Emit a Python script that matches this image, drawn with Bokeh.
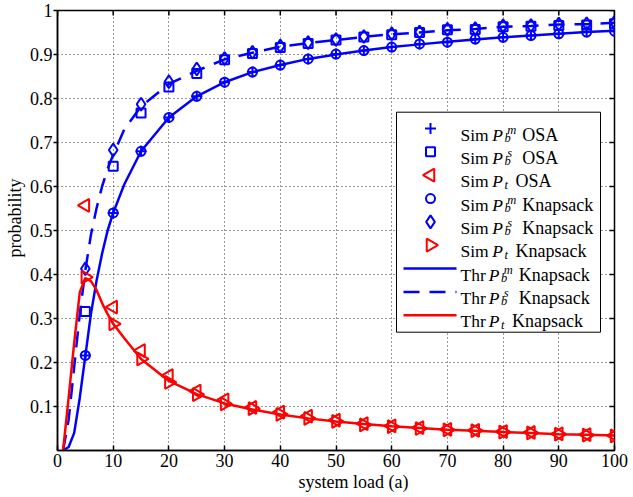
import math
from bokeh.plotting import figure
from bokeh.models import FixedTicker, Range1d, ColumnDataSource, Title
from bokeh.embed import file_html
from bokeh.resources import INLINE
from bokeh.core.properties import value

# ---------------- data ----------------
x_sim = [5, 10, 15, 20, 25, 30, 35, 40, 45, 50, 55, 60, 65, 70, 75, 80, 85, 90, 95, 100]
sim_pbm_osa = [0.216, 0.540, 0.680, 0.757, 0.805, 0.837, 0.860, 0.876, 0.890, 0.901,
               0.909, 0.917, 0.924, 0.928, 0.935, 0.939, 0.943, 0.947, 0.951, 0.953]
sim_pbs_osa = [0.316, 0.646, 0.767, 0.826, 0.857, 0.888, 0.902, 0.916, 0.925, 0.933,
               0.940, 0.945, 0.950, 0.956, 0.957, 0.963, 0.964, 0.966, 0.967, 0.970]
sim_pt_osa = [0.557, 0.326, 0.227, 0.170, 0.135, 0.115, 0.098, 0.087, 0.078, 0.069,
              0.061, 0.056, 0.052, 0.048, 0.046, 0.043, 0.041, 0.038, 0.036, 0.034]
sim_pbm_knap = [0.216, 0.540, 0.680, 0.757, 0.805, 0.837, 0.860, 0.876, 0.890, 0.901,
                0.909, 0.917, 0.924, 0.928, 0.935, 0.939, 0.943, 0.947, 0.951, 0.953]
sim_pbs_knap = [0.413, 0.683, 0.787, 0.838, 0.867, 0.891, 0.905, 0.919, 0.927, 0.934,
                0.941, 0.947, 0.951, 0.957, 0.959, 0.965, 0.966, 0.969, 0.970, 0.973]
sim_pt_knap = [0.394, 0.288, 0.208, 0.155, 0.127, 0.106, 0.095, 0.082, 0.073, 0.066,
               0.058, 0.054, 0.050, 0.047, 0.045, 0.042, 0.040, 0.037, 0.035, 0.033]

x_thr = [1, 2, 3, 4, 5, 6, 7, 8, 9, 10, 12, 15, 20, 25, 30, 35, 40, 45, 50, 55,
         60, 65, 70, 75, 80, 85, 90, 95, 100]
thr_pbm = [0.0, 0.008, 0.04, 0.12, 0.215, 0.31, 0.385, 0.447, 0.50, 0.54, 0.605, 0.68,
           0.757, 0.805, 0.837, 0.86, 0.876, 0.89, 0.90, 0.909, 0.917, 0.923, 0.929,
           0.934, 0.939, 0.943, 0.947, 0.951, 0.954]
thr_pbs = [0.0, 0.07, 0.19, 0.31, 0.41, 0.49, 0.55, 0.60, 0.64, 0.672, 0.73, 0.782,
           0.833, 0.863, 0.889, 0.904, 0.918, 0.926, 0.933, 0.94, 0.946, 0.95, 0.955,
           0.958, 0.963, 0.965, 0.968, 0.969, 0.972]
thr_pt = [0.0, 0.12, 0.245, 0.36, 0.392, 0.385, 0.365, 0.335, 0.31, 0.288, 0.255, 0.208,
          0.158, 0.128, 0.107, 0.093, 0.082, 0.073, 0.066, 0.06, 0.055, 0.051, 0.047,
          0.045, 0.042, 0.04, 0.037, 0.036, 0.034]

x_ticks = [0, 10, 20, 30, 40, 50, 60, 70, 80, 90, 100]
y_ticks = [0.1, 0.2, 0.3, 0.4, 0.5, 0.6, 0.7, 0.8, 0.9, 1.0]
y_tick_labels = ["0.1", "0.2", "0.3", "0.4", "0.5", "0.6", "0.7", "0.8", "0.9", "1"]

leg_prefix = ["Sim", "Sim", "Sim", "Sim", "Sim", "Sim", "Thr", "Thr", "Thr"]
leg_sub = ["b", "b", "t", "b", "b", "t", "b", "b", "t"]
leg_sup = ["m", "s", "", "m", "s", "", "m", "s", ""]
leg_suffix = ["OSA", "OSA", "OSA", "Knapsack", "Knapsack", "Knapsack",
              "Knapsack", "Knapsack", "Knapsack"]

xlabel = "system load (a)"
ylabel = "probability"

# ---------------- layout ----------------
BLUE = "#0000ff"
RED = "#ff0000"
FONT = "Liberation Serif"
W, H = 633, 497
BL, BR, BT, BB = 57, 19, 10, 47
FL, FR, FT, FB = BL, W - BR, BT, H - BB
FW, FH = FR - FL, FB - FT


def xd(px):
    return (px - FL) / FW * 100.0


def yd(py):
    return (FB - py) / FH


p = figure(width=W, height=H, x_range=Range1d(0, 100), y_range=Range1d(0, 1),
           output_backend="svg", toolbar_location=None,
           min_border_left=BL, min_border_right=BR, min_border_top=BT,
           min_border_bottom=BB)
p.background_fill_color = "white"
p.border_fill_color = "white"
p.outline_line_color = "black"
p.outline_line_width = 1.5

p.xaxis.ticker = FixedTicker(ticks=x_ticks)
p.yaxis.ticker = FixedTicker(ticks=y_ticks)
p.yaxis.major_label_overrides = {t: l for t, l in zip(y_ticks, y_tick_labels)}

for ax in (p.xaxis[0], p.yaxis[0]):
    ax.axis_line_color = "black"
    ax.axis_line_width = 1.5
    ax.major_tick_line_color = "black"
    ax.major_tick_line_width = 1.5
    ax.minor_tick_line_color = None
    ax.major_label_text_font = FONT
    ax.major_label_text_font_size = "18px"
    ax.major_label_text_color = "black"

p.xaxis.major_tick_in = 5
p.xaxis.major_tick_out = 0
p.xaxis.major_label_standoff = 3
p.yaxis.major_tick_in = 0
p.yaxis.major_tick_out = 4
p.yaxis.major_label_standoff = 1

p.grid.grid_line_color = "#333333"
p.grid.grid_line_dash = "1 3"
p.grid.grid_line_width = 1

# mirrored inward ticks on the top and right frame edges
TL = 5
p.segment(x0=x_ticks, y0=[1.0] * len(x_ticks), x1=x_ticks, y1=[1.0 - TL / FH] * len(x_ticks),
          line_color="black", line_width=1.5)
p.segment(x0=[100.0] * len(y_ticks), y0=y_ticks, x1=[100.0 - TL / FW * 100] * len(y_ticks),
          y1=y_ticks, line_color="black", line_width=1.5)

# ---------------- simulation markers ----------------
MW = 2
p.scatter(x_sim, sim_pbm_osa, marker="cross", size=11, line_color=BLUE, line_width=MW)
p.scatter(x_sim, sim_pbs_osa, marker="square", size=9, line_color=BLUE, fill_color=None, line_width=MW)
p.scatter(x_sim, sim_pt_osa, marker="triangle", angle=math.pi / 2, size=13, line_color=RED,
          fill_color=None, line_width=MW)
p.scatter(x_sim, sim_pbm_knap, marker="circle", size=9, line_color=BLUE, fill_color=None, line_width=MW)
p.scatter(x_sim, sim_pbs_knap, marker="diamond", size=13, line_color=BLUE, fill_color=None, line_width=MW)
p.scatter(x_sim, sim_pt_knap, marker="triangle", angle=-math.pi / 2, size=13, line_color=RED,
          fill_color=None, line_width=MW)

# ---------------- theory lines ----------------
LW = 2.5
p.line(x_thr, thr_pbm, line_color=BLUE, line_width=LW)
p.line(x_thr, thr_pbs, line_color=BLUE, line_width=LW, line_dash="16 10")
p.line(x_thr, thr_pt, line_color=RED, line_width=LW)

# ---------------- legend (hand-built for sub/superscripts) ----------------
p.quad(left=[xd(396)], right=[xd(600)], top=[yd(111.7)], bottom=[yd(331.7)],
       fill_color="white", line_color="black", line_width=1)

row_cy = [128 + 23.34 * i for i in range(9)]
mx = xd(430)
p.scatter([mx], [yd(row_cy[0])], marker="cross", size=11, line_color=BLUE, line_width=MW)
p.scatter([mx], [yd(row_cy[1])], marker="square", size=9, line_color=BLUE, fill_color=None, line_width=MW)
p.scatter([mx], [yd(row_cy[2])], marker="triangle", angle=math.pi / 2, size=13, line_color=RED,
          fill_color=None, line_width=MW)
p.scatter([mx], [yd(row_cy[3])], marker="circle", size=9, line_color=BLUE, fill_color=None, line_width=MW)
p.scatter([mx], [yd(row_cy[4])], marker="diamond", size=13, line_color=BLUE, fill_color=None, line_width=MW)
p.scatter([mx], [yd(row_cy[5])], marker="triangle", angle=-math.pi / 2, size=13, line_color=RED,
          fill_color=None, line_width=MW)
p.line([xd(403), xd(456)], [yd(row_cy[6])] * 2, line_color=BLUE, line_width=LW)
p.line([xd(403), xd(456)], [yd(row_cy[7])] * 2, line_color=BLUE, line_width=LW, line_dash="16 10")
p.line([xd(403), xd(456)], [yd(row_cy[8])] * 2, line_color=RED, line_width=LW)

TX = 460
pre = dict(x=[], y=[], t=[])
pp = dict(x=[], y=[], t=[])
sub = dict(x=[], y=[], t=[])
sup = dict(x=[], y=[], t=[])
suf = dict(x=[], y=[], t=[])
for i in range(9):
    base = row_cy[i] + 6
    px_p = TX + (31.7 if leg_prefix[i] == "Sim" else 28.3)
    pre["x"].append(xd(TX)); pre["y"].append(yd(base)); pre["t"].append(leg_prefix[i])
    pp["x"].append(xd(px_p)); pp["y"].append(yd(base)); pp["t"].append("P")
    sub["x"].append(xd(px_p + 12.3)); sub["y"].append(yd(base + 3.4)); sub["t"].append(leg_sub[i])
    if leg_sup[i]:
        sup["x"].append(xd(px_p + 15)); sup["y"].append(yd(base - 5)); sup["t"].append(leg_sup[i])
    sx = px_p + (30 if leg_sub[i] == "b" else 23.3)
    suf["x"].append(xd(sx)); suf["y"].append(yd(base)); suf["t"].append(leg_suffix[i])

common = dict(text_font=value(FONT), text_color="black", text_align="left",
              text_baseline="alphabetic")
p.text(x="x", y="y", text="t", source=ColumnDataSource(pre), text_font_size=value("17.5px"), **common)
p.text(x="x", y="y", text="t", source=ColumnDataSource(pp), text_font_size=value("17.5px"),
       text_font_style="italic", **common)
p.text(x="x", y="y", text="t", source=ColumnDataSource(sub), text_font_size=value("12.5px"),
       text_font_style="italic", **common)
p.text(x="x", y="y", text="t", source=ColumnDataSource(sup), text_font_size=value("12.5px"),
       text_font_style="italic", **common)
p.text(x="x", y="y", text="t", source=ColumnDataSource(suf), text_font_size=value("18px"), **common)

# ---------------- axis titles (side-panel titles, offset to match reference) ----------------
xt = Title(text=xlabel, align="left", offset=298 - FL, standoff=0,
           text_font=FONT, text_font_size="18px", text_font_style="normal",
           text_color="black")
p.add_layout(xt, "below")
yt = Title(text=ylabel, align="left", offset=FB - 257, standoff=0, vertical_align="top",
           text_font=FONT, text_font_size="18px", text_font_style="normal",
           text_color="black")
p.add_layout(yt, "left")

open("out.html", "w").write(file_html(p, INLINE))
